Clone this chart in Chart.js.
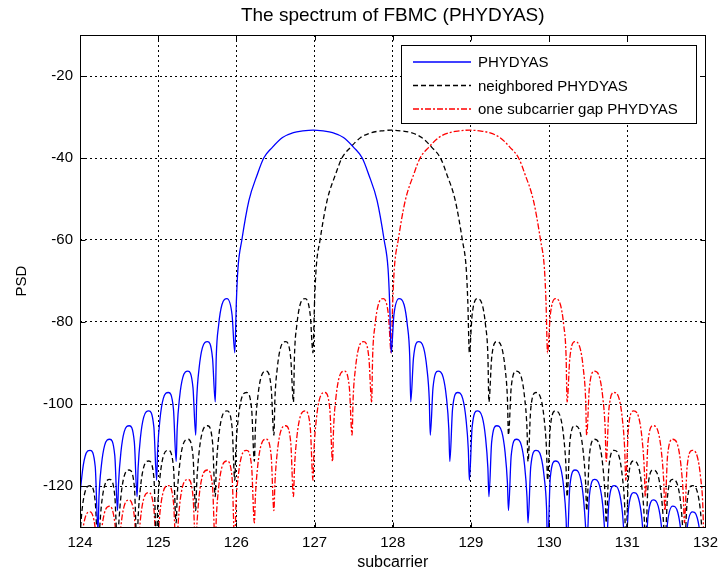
<!DOCTYPE html>
<html>
<head>
<meta charset="utf-8">
<script src="https://cdn.jsdelivr.net/npm/chart.js@4.4.1/dist/chart.umd.min.js"></script>
<style>
  html, body { margin: 0; padding: 0; background: #fff; }
  #wrap { width: 718px; height: 574px; }
</style>
</head>
<body>
<div id="wrap"><canvas id="main-chart" width="718" height="574"></canvas></div>
<script>
// axis ticks
var xTicks = [124, 125, 126, 127, 128, 129, 130, 131, 132];
var yTicks = [-120, -100, -80, -60, -40, -20];

var chartTitle = 'The spectrum of FBMC (PHYDYAS)';
var seriesNames = ['PHYDYAS', 'neighbored PHYDYAS', 'one subcarrier gap PHYDYAS'];

// PSD, [subcarrier, dB]
var phydyas = [
  [123.98,-135],
  [123.993,-125.3],[124.023,-117.8],[124.065,-112.8],[124.13,-111.3],[124.195,-115.3],[124.23,-131],
  [124.243,-122.6],[124.273,-115.1],[124.315,-110.1],[124.38,-108.6],[124.445,-112.6],[124.48,-126],
  [124.493,-119.3],[124.523,-111.8],[124.565,-106.8],[124.63,-105.3],[124.695,-109.3],[124.73,-122.6],
  [124.743,-115.7],[124.773,-108.2],[124.815,-103.2],[124.88,-101.7],[124.945,-105.7],[124.98,-118.6],
  [124.993,-111.2],[125.023,-103.7],[125.065,-98.7],[125.13,-97.2],[125.195,-101.2],[125.23,-114],
  [125.243,-106],[125.273,-98.5],[125.315,-93.5],[125.38,-92],[125.445,-96],[125.48,-107.6],
  [125.493,-98.8],[125.523,-91.3],[125.565,-86.3],[125.63,-84.8],[125.695,-88.8],[125.73,-99.5],
  [125.743,-88.3],[125.773,-80.8],[125.815,-75.8],[125.88,-74.3],[125.945,-78.3],[125.98,-87.5],
  [126.00,-75],[126.02,-67],[126.07,-60],[126.16,-50.4],[126.27,-43.9],[126.35,-40],
  [126.46,-37.4],[126.59,-35],[126.73,-33.8],[126.85,-33.4],[126.98,-33.2],
  [127.11,-33.4],[127.23,-33.8],[127.37,-35],[127.50,-37.4],[127.61,-40],
  [127.69,-43.9],[127.80,-50.4],[127.89,-60],[127.94,-67],[127.96,-75],[127.98,-87.5],
  [128.015,-78.3],[128.08,-74.3],[128.145,-75.8],[128.187,-80.8],[128.217,-88.3],[128.23,-99.5],
  [128.265,-88.8],[128.33,-84.8],[128.395,-86.3],[128.437,-91.3],[128.467,-98.8],[128.48,-107.6],
  [128.515,-96],[128.58,-92],[128.645,-93.5],[128.687,-98.5],[128.717,-106],[128.73,-114],
  [128.765,-101.2],[128.83,-97.2],[128.895,-98.7],[128.937,-103.7],[128.967,-111.2],[128.98,-118.6],
  [129.015,-105.7],[129.08,-101.7],[129.145,-103.2],[129.187,-108.2],[129.217,-115.7],[129.23,-122.6],
  [129.265,-109.3],[129.33,-105.3],[129.395,-106.8],[129.437,-111.8],[129.467,-119.3],[129.48,-126],
  [129.515,-112.6],[129.58,-108.6],[129.645,-110.1],[129.687,-115.1],[129.717,-122.6],[129.73,-129],
  [129.765,-115.3],[129.83,-111.3],[129.895,-112.8],[129.937,-117.8],[129.967,-125.3],[129.98,-135],
  [130.015,-117.9],[130.08,-113.9],[130.145,-115.4],[130.187,-120.4],[130.217,-127.9],[130.23,-135],
  [130.265,-120.1],[130.33,-116.1],[130.395,-117.6],[130.437,-122.6],[130.467,-130.1],[130.48,-135],
  [130.515,-122.4],[130.58,-118.4],[130.645,-119.9],[130.687,-124.9],[130.717,-132.4],[130.73,-135],
  [130.765,-123.9],[130.83,-119.9],[130.895,-121.4],[130.937,-126.4],[130.967,-133.9],[130.98,-135],
  [131.015,-125.6],[131.08,-121.6],[131.145,-123.1],[131.187,-128.1],[131.217,-135.6],[131.23,-137],
  [131.265,-127.4],[131.33,-123.4],[131.395,-124.9],[131.437,-129.9],[131.467,-137.4],[131.48,-138],
  [131.515,-128.9],[131.58,-124.9],[131.645,-126.4],[131.687,-131.4],[131.717,-138.9],[131.73,-139],
  [131.765,-130.3],[131.83,-126.3],[131.895,-127.8],[131.937,-132.8],[131.967,-140.3],[131.98,-141]
];

var neighbored = [
  [123.98,-135],
  [123.993,-133.9],[124.023,-126.4],[124.065,-121.4],[124.13,-119.9],[124.195,-123.9],[124.23,-135],
  [124.243,-132.4],[124.273,-124.9],[124.315,-119.9],[124.38,-118.4],[124.445,-122.4],[124.48,-135],
  [124.493,-130.1],[124.523,-122.6],[124.565,-117.6],[124.63,-116.1],[124.695,-120.1],[124.73,-135],
  [124.743,-127.9],[124.773,-120.4],[124.815,-115.4],[124.88,-113.9],[124.945,-117.9],[124.98,-135],
  [124.993,-125.3],[125.023,-117.8],[125.065,-112.8],[125.13,-111.3],[125.195,-115.3],[125.23,-129],
  [125.243,-122.6],[125.273,-115.1],[125.315,-110.1],[125.38,-108.6],[125.445,-112.6],[125.48,-126],
  [125.493,-119.3],[125.523,-111.8],[125.565,-106.8],[125.63,-105.3],[125.695,-109.3],[125.73,-122.6],
  [125.743,-115.7],[125.773,-108.2],[125.815,-103.2],[125.88,-101.7],[125.945,-105.7],[125.98,-118.6],
  [125.993,-111.2],[126.023,-103.7],[126.065,-98.7],[126.13,-97.2],[126.195,-101.2],[126.23,-114],
  [126.243,-106],[126.273,-98.5],[126.315,-93.5],[126.38,-92],[126.445,-96],[126.48,-107.6],
  [126.493,-98.8],[126.523,-91.3],[126.565,-86.3],[126.63,-84.8],[126.695,-88.8],[126.73,-99.5],
  [126.743,-88.3],[126.773,-80.8],[126.815,-75.8],[126.88,-74.3],[126.945,-78.3],[126.98,-87.5],
  [127.00,-75],[127.02,-67],[127.07,-60],[127.16,-50.4],[127.27,-43.9],[127.35,-40],
  [127.46,-37.4],[127.59,-35],[127.73,-33.8],[127.85,-33.4],[127.98,-33.2],
  [128.11,-33.4],[128.23,-33.8],[128.37,-35],[128.50,-37.4],[128.61,-40],
  [128.69,-43.9],[128.80,-50.4],[128.89,-60],[128.94,-67],[128.96,-75],[128.98,-87.5],
  [129.015,-78.3],[129.08,-74.3],[129.145,-75.8],[129.187,-80.8],[129.217,-88.3],[129.23,-99.5],
  [129.265,-88.8],[129.33,-84.8],[129.395,-86.3],[129.437,-91.3],[129.467,-98.8],[129.48,-107.6],
  [129.515,-96],[129.58,-92],[129.645,-93.5],[129.687,-98.5],[129.717,-106],[129.73,-114],
  [129.765,-101.2],[129.83,-97.2],[129.895,-98.7],[129.937,-103.7],[129.967,-111.2],[129.98,-118.6],
  [130.015,-105.7],[130.08,-101.7],[130.145,-103.2],[130.187,-108.2],[130.217,-115.7],[130.23,-122.6],
  [130.265,-109.3],[130.33,-105.3],[130.395,-106.8],[130.437,-111.8],[130.467,-119.3],[130.48,-126],
  [130.515,-112.6],[130.58,-108.6],[130.645,-110.1],[130.687,-115.1],[130.717,-122.6],[130.73,-129],
  [130.765,-115.3],[130.83,-111.3],[130.895,-112.8],[130.937,-117.8],[130.967,-125.3],[130.98,-135],
  [131.015,-117.9],[131.08,-113.9],[131.145,-115.4],[131.187,-120.4],[131.217,-127.9],[131.23,-135],
  [131.265,-120.1],[131.33,-116.1],[131.395,-117.6],[131.437,-122.6],[131.467,-130.1],[131.48,-135],
  [131.515,-122.4],[131.58,-118.4],[131.645,-119.9],[131.687,-124.9],[131.717,-132.4],[131.73,-135],
  [131.765,-123.9],[131.83,-119.9],[131.895,-121.4],[131.937,-126.4],[131.967,-133.9],[131.98,-135]
];

var gapPhydyas = [
  [123.98,-141],
  [123.993,-140.3],[124.023,-132.8],[124.065,-127.8],[124.13,-126.3],[124.195,-130.3],[124.23,-138],
  [124.243,-138.9],[124.273,-131.4],[124.315,-126.4],[124.38,-124.9],[124.445,-128.9],[124.48,-137],
  [124.493,-137.4],[124.523,-129.9],[124.565,-124.9],[124.63,-123.4],[124.695,-127.4],[124.73,-136],
  [124.743,-135.6],[124.773,-128.1],[124.815,-123.1],[124.88,-121.6],[124.945,-125.6],[124.98,-135],
  [124.993,-133.9],[125.023,-126.4],[125.065,-121.4],[125.13,-119.9],[125.195,-123.9],[125.23,-135],
  [125.243,-132.4],[125.273,-124.9],[125.315,-119.9],[125.38,-118.4],[125.445,-122.4],[125.48,-135],
  [125.493,-130.1],[125.523,-122.6],[125.565,-117.6],[125.63,-116.1],[125.695,-120.1],[125.73,-135],
  [125.743,-127.9],[125.773,-120.4],[125.815,-115.4],[125.88,-113.9],[125.945,-117.9],[125.98,-135],
  [125.993,-125.3],[126.023,-117.8],[126.065,-112.8],[126.13,-111.3],[126.195,-115.3],[126.23,-129],
  [126.243,-122.6],[126.273,-115.1],[126.315,-110.1],[126.38,-108.6],[126.445,-112.6],[126.48,-126],
  [126.493,-119.3],[126.523,-111.8],[126.565,-106.8],[126.63,-105.3],[126.695,-109.3],[126.73,-122.6],
  [126.743,-115.7],[126.773,-108.2],[126.815,-103.2],[126.88,-101.7],[126.945,-105.7],[126.98,-118.6],
  [126.993,-111.2],[127.023,-103.7],[127.065,-98.7],[127.13,-97.2],[127.195,-101.2],[127.23,-114],
  [127.243,-106],[127.273,-98.5],[127.315,-93.5],[127.38,-92],[127.445,-96],[127.48,-107.6],
  [127.493,-98.8],[127.523,-91.3],[127.565,-86.3],[127.63,-84.8],[127.695,-88.8],[127.73,-99.5],
  [127.743,-88.3],[127.773,-80.8],[127.815,-75.8],[127.88,-74.3],[127.945,-78.3],[127.98,-87.5],
  [128.00,-75],[128.02,-67],[128.07,-60],[128.16,-50.4],[128.27,-43.9],[128.35,-40],
  [128.46,-37.4],[128.59,-35],[128.73,-33.8],[128.85,-33.4],[128.98,-33.2],
  [129.11,-33.4],[129.23,-33.8],[129.37,-35],[129.50,-37.4],[129.61,-40],
  [129.69,-43.9],[129.80,-50.4],[129.89,-60],[129.94,-67],[129.96,-75],[129.98,-87.5],
  [130.015,-78.3],[130.08,-74.3],[130.145,-75.8],[130.187,-80.8],[130.217,-88.3],[130.23,-99.5],
  [130.265,-88.8],[130.33,-84.8],[130.395,-86.3],[130.437,-91.3],[130.467,-98.8],[130.48,-107.6],
  [130.515,-96],[130.58,-92],[130.645,-93.5],[130.687,-98.5],[130.717,-106],[130.73,-114],
  [130.765,-101.2],[130.83,-97.2],[130.895,-98.7],[130.937,-103.7],[130.967,-111.2],[130.98,-118.6],
  [131.015,-105.7],[131.08,-101.7],[131.145,-103.2],[131.187,-108.2],[131.217,-115.7],[131.23,-122.6],
  [131.265,-109.3],[131.33,-105.3],[131.395,-106.8],[131.437,-111.8],[131.467,-119.3],[131.48,-126],
  [131.515,-112.6],[131.58,-108.6],[131.645,-110.1],[131.687,-115.1],[131.717,-122.6],[131.73,-129],
  [131.765,-115.3],[131.83,-111.3],[131.895,-112.8],[131.937,-117.8],[131.967,-125.3],[131.98,-135]
];

var FONT = 'Liberation Sans, Arial, Helvetica, sans-serif';

function toPoints(arr) {
	return arr.map(function (p) { return { x: p[0], y: p[1] }; });
}

var styles = [
	{ color: '#0000ff', dash: [] },
	{ color: '#000000', dash: [5, 3] },
	{ color: '#ff0000', dash: [6, 2, 2, 2] }
];

// matlab style title, box, inward ticks and legend
var matlabAxes = {
	id: 'matlabAxes',
	afterDraw: function (chart) {
		var ctx = chart.ctx;
		var a = chart.chartArea;
		var xs = chart.scales.x, ys = chart.scales.y;
		var l = Math.round(a.left) + 0.5, r = Math.round(a.right) + 0.5;
		var t = Math.round(a.top) + 0.5, b = Math.round(a.bottom) + 0.5;
		ctx.save();

		ctx.fillStyle = '#000';
		ctx.font = '19px ' + FONT;
		ctx.textAlign = 'center';
		ctx.textBaseline = 'middle';
		ctx.fillText(chartTitle, (a.left + a.right) / 2, 16);

		ctx.strokeStyle = '#000';
		ctx.lineWidth = 1;
		ctx.setLineDash([]);
		ctx.strokeRect(l, t, r - l, b - t);
		ctx.beginPath();
		xTicks.forEach(function (v) {
			var px = Math.round(xs.getPixelForValue(v)) + 0.5;
			ctx.moveTo(px, b); ctx.lineTo(px, b - 5);
			ctx.moveTo(px, t); ctx.lineTo(px, t + 5);
		});
		yTicks.forEach(function (v) {
			var py = Math.round(ys.getPixelForValue(v)) + 0.5;
			ctx.moveTo(l, py); ctx.lineTo(l + 5, py);
			ctx.moveTo(r, py); ctx.lineTo(r - 5, py);
		});
		ctx.stroke();

		// legend box
		var lx = 401.5, ly = 45.5, lw = 295, lh = 78;
		ctx.fillStyle = '#fff';
		ctx.fillRect(lx, ly, lw, lh);
		ctx.strokeRect(lx, ly, lw, lh);
		ctx.font = '15px ' + FONT;
		ctx.textBaseline = 'middle';
		ctx.textAlign = 'left';
		for (var i = 0; i < seriesNames.length; i++) {
			var yy = 62 + i * 23.5;
			ctx.strokeStyle = styles[i].color;
			ctx.lineWidth = 1.3;
			ctx.setLineDash(styles[i].dash);
			ctx.beginPath();
			ctx.moveTo(413, yy);
			ctx.lineTo(471, yy);
			ctx.stroke();
			ctx.fillStyle = '#000';
			ctx.fillText(seriesNames[i], 478, yy + 1);
		}
		ctx.restore();
	}
};

var datasets = [phydyas, neighbored, gapPhydyas].map(function (arr, i) {
	return {
		label: seriesNames[i],
		data: toPoints(arr),
		borderColor: styles[i].color,
		borderDash: styles[i].dash,
		borderWidth: 1.3,
		pointRadius: 0,
		cubicInterpolationMode: 'monotone',
		fill: false
	};
});

var ctx = document.getElementById('main-chart');
var chart = new Chart(ctx, {
	type: 'line',
	data: { datasets: datasets },
	plugins: [matlabAxes],
	options: {
		responsive: false,
		animation: false,
		events: [],
		layout: { padding: { left: 0, right: 0, top: 35, bottom: 0 } },
		plugins: {
			legend: { display: false },
			tooltip: { enabled: false },
			title: { display: false }
		},
		scales: {
			x: {
				type: 'linear',
				min: 124,
				max: 132,
				afterBuildTicks: function (scale) {
					scale.ticks = xTicks.map(function (v) { return { value: v }; });
				},
				afterFit: function (scale) { scale.height = 47; },
				grid: { color: '#000', lineWidth: 1, drawTicks: true, tickLength: 7, tickColor: 'rgba(0,0,0,0)' },
				border: { display: false, dash: [2, 3] },
				ticks: { color: '#000', padding: 0, maxRotation: 0, font: { family: FONT, size: 15 } },
				title: {
					display: true,
					text: 'subcarrier',
					color: '#000',
					font: { family: FONT, size: 16 },
					padding: { top: 0, bottom: 2 }
				}
			},
			y: {
				type: 'linear',
				min: -130,
				max: -10,
				afterBuildTicks: function (scale) {
					scale.ticks = yTicks.map(function (v) { return { value: v }; });
				},
				afterFit: function (scale) { scale.width = 80; },
				grid: { color: '#000', lineWidth: 1, drawTicks: false },
				border: { display: false, dash: [2, 3] },
				ticks: { color: '#000', padding: 7, font: { family: FONT, size: 15 } },
				title: {
					display: true,
					text: 'PSD',
					color: '#000',
					font: { family: FONT, size: 15 },
					padding: { top: 13, bottom: 0 }
				}
			}
		}
	}
});
</script>
</body>
</html>
